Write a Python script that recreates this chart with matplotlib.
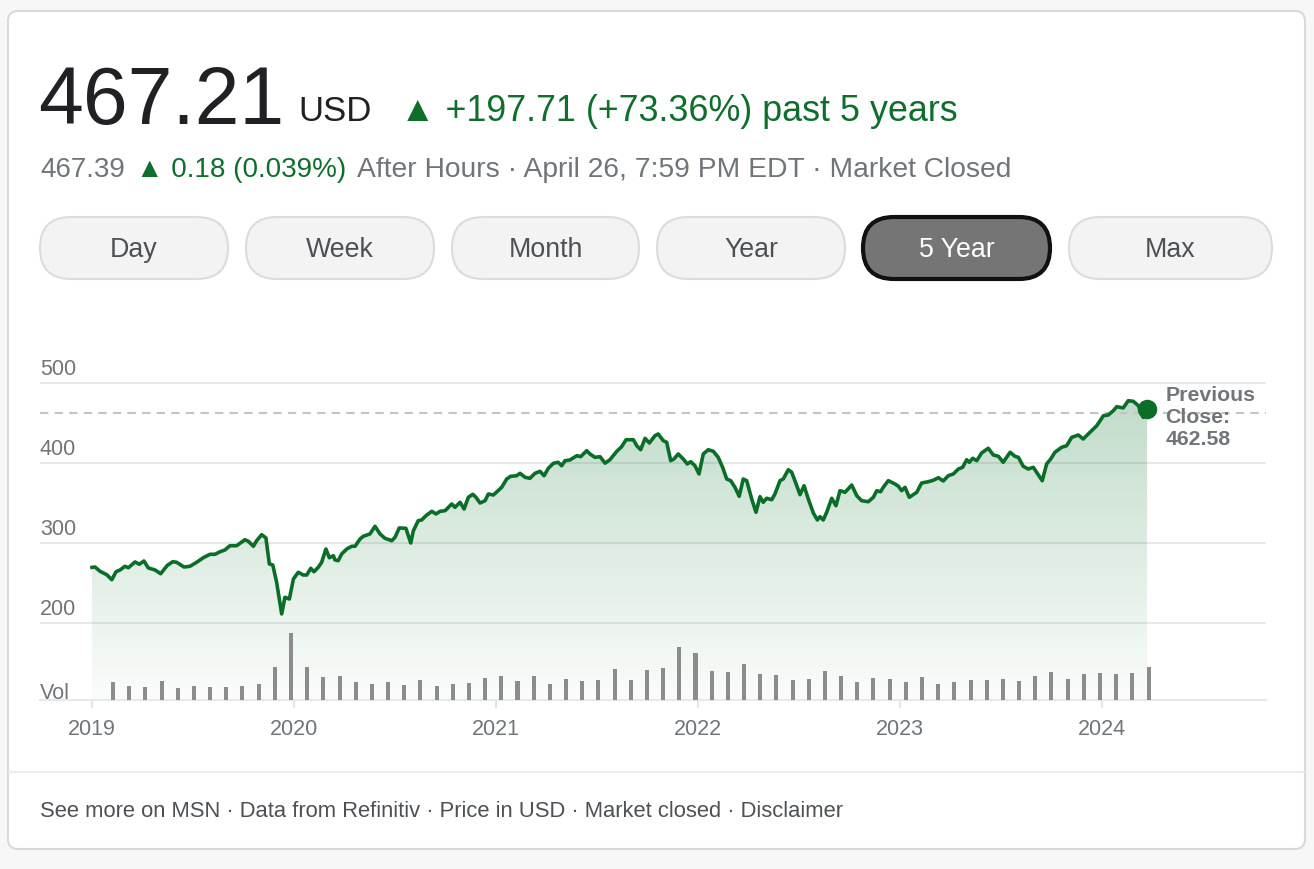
import numpy as np
import matplotlib
matplotlib.use("Agg")
import matplotlib.pyplot as plt
import matplotlib.patches as mpatches

# ── Data ───────────────────────────────────────────────────────────────────────
# years since start of the 5-year window (axis label 2019 sits at 0)
t_years = [
    0.000, 0.015, 0.040, 0.073, 0.098, 0.119, 0.139, 0.163, 0.180, 0.213,
    0.234, 0.257, 0.279, 0.312, 0.340, 0.373, 0.400, 0.419, 0.455, 0.485,
    0.518, 0.551, 0.584, 0.609, 0.634, 0.658, 0.683, 0.716, 0.757, 0.774,
    0.799, 0.815, 0.840, 0.861, 0.878, 0.895, 0.914, 0.939, 0.955, 0.977,
    0.997, 1.021, 1.046, 1.063, 1.083, 1.099, 1.120, 1.137, 1.158, 1.175,
    1.195, 1.203, 1.219, 1.236, 1.261, 1.286, 1.302, 1.327, 1.343, 1.376,
    1.401, 1.426, 1.450, 1.484, 1.500, 1.521, 1.554, 1.578, 1.591, 1.615,
    1.632, 1.653, 1.682, 1.703, 1.723, 1.748, 1.781, 1.797, 1.822, 1.842,
    1.863, 1.885, 1.901, 1.921, 1.946, 1.962, 1.987, 2.028, 2.053, 2.073,
    2.102, 2.119, 2.144, 2.168, 2.193, 2.218, 2.238, 2.259, 2.284, 2.308,
    2.325, 2.342, 2.366, 2.400, 2.419, 2.449, 2.465, 2.490, 2.515, 2.540,
    2.564, 2.598, 2.622, 2.644, 2.680, 2.697, 2.716, 2.738, 2.759, 2.787,
    2.803, 2.828, 2.845, 2.865, 2.881, 2.902, 2.927, 2.947, 2.964, 2.985,
    3.005, 3.026, 3.051, 3.076, 3.100, 3.122, 3.142, 3.162, 3.183, 3.204,
    3.224, 3.241, 3.266, 3.287, 3.307, 3.323, 3.340, 3.365, 3.381, 3.406,
    3.422, 3.447, 3.464, 3.489, 3.505, 3.525, 3.546, 3.571, 3.591, 3.604,
    3.620, 3.637, 3.662, 3.683, 3.703, 3.728, 3.761, 3.786, 3.810, 3.843,
    3.868, 3.885, 3.904, 3.917, 3.942, 3.975, 3.992, 4.008, 4.025, 4.046,
    4.083, 4.107, 4.140, 4.165, 4.190, 4.214, 4.239, 4.264, 4.289, 4.310,
    4.330, 4.343, 4.360, 4.380, 4.404, 4.437, 4.462, 4.487, 4.511, 4.545,
    4.569, 4.586, 4.610, 4.635, 4.660, 4.685, 4.704, 4.726, 4.746, 4.767,
    4.800, 4.825, 4.850, 4.883, 4.907, 4.932, 4.974, 5.007, 5.031, 5.056,
    5.073, 5.105, 5.130, 5.155, 5.180, 5.204, 5.223,
]
price = [
    269.5, 270.0, 264.6, 260.4, 254.1, 264.1, 266.3, 270.9, 269.1, 276.3,
    273.4, 277.5, 268.8, 266.3, 261.6, 272.1, 276.6, 275.9, 270.0, 270.9,
    275.9, 281.6, 285.9, 285.9, 289.1, 291.3, 296.6, 296.6, 304.1, 302.1,
    295.9, 302.9, 310.4, 306.3, 273.8, 272.5, 250.9, 211.3, 232.1, 230.0,
    255.0, 263.4, 260.0, 260.0, 268.4, 264.1, 269.6, 275.9, 292.5, 281.6,
    284.1, 278.8, 277.9, 286.3, 292.5, 295.9, 295.9, 305.0, 308.4, 311.3,
    320.9, 311.3, 305.9, 302.9, 307.1, 318.8, 318.4, 300.0, 315.4, 327.9,
    328.8, 334.1, 339.6, 336.3, 339.6, 340.4, 348.8, 344.6, 350.9, 342.5,
    357.1, 360.9, 357.1, 350.0, 352.9, 361.3, 360.0, 369.6, 380.0, 383.4,
    384.1, 387.1, 382.1, 380.9, 387.1, 389.6, 384.1, 393.4, 399.6, 400.9,
    396.6, 402.9, 403.8, 409.1, 407.9, 415.4, 411.3, 407.1, 407.9, 399.8,
    404.1, 414.6, 420.4, 429.1, 429.1, 421.6, 416.6, 430.9, 425.0, 434.1,
    436.3, 427.9, 425.9, 402.9, 405.0, 411.3, 405.0, 398.8, 401.6, 396.6,
    386.3, 411.3, 416.6, 414.6, 407.1, 394.6, 380.0, 377.9, 369.6, 358.4,
    380.0, 377.9, 355.0, 338.4, 357.9, 350.9, 355.9, 354.1, 361.3, 377.9,
    380.0, 391.6, 388.4, 371.6, 360.4, 371.6, 355.0, 337.5, 328.8, 332.9,
    328.8, 338.4, 355.9, 346.6, 365.4, 363.4, 372.5, 359.1, 352.9, 351.6,
    357.1, 365.4, 364.1, 369.6, 377.9, 373.8, 370.9, 365.4, 369.6, 357.1,
    363.4, 375.0, 376.6, 378.4, 381.6, 377.5, 384.1, 386.3, 392.5, 394.6,
    404.1, 400.9, 405.9, 402.9, 412.5, 418.4, 410.0, 408.4, 400.9, 413.4,
    408.4, 407.1, 395.9, 392.5, 394.6, 385.0, 377.9, 398.8, 405.0, 413.4,
    419.6, 421.6, 432.1, 435.0, 430.0, 436.3, 446.6, 459.1, 460.0, 465.4,
    470.4, 468.8, 477.9, 477.1, 471.6, 457.1, 467.21,
]
# monthly volume (relative units)
volume = [
    18.3, 13.7, 12.7, 19.0, 12.0, 13.7, 12.7, 12.7, 14.0, 16.0,
    33.3, 67.0, 33.3, 23.3, 23.7, 18.3, 15.7, 18.3, 14.7, 20.0,
    14.0, 16.3, 16.7, 22.0, 24.0, 19.3, 24.3, 16.0, 21.3, 19.0,
    19.7, 31.0, 19.7, 30.3, 31.7, 53.3, 47.0, 29.0, 28.0, 36.0,
    26.3, 25.0, 19.7, 21.0, 29.3, 24.3, 18.0, 22.0, 21.0, 18.0,
    23.3, 16.0, 18.3, 20.0, 19.7, 21.3, 19.0, 24.0, 28.0, 21.0,
    26.0, 27.3, 25.7, 27.3, 33.0,
]
vol_t = 0.104 + 0.0801 * np.arange(len(volume))

prev_close = 462.58
year_ticks = [0, 1, 2, 3, 4, 5]
year_labels = ["2019", "2020", "2021", "2022", "2023", "2024"]
price_ticks = [200, 300, 400, 500]
buttons = ["Day", "Week", "Month", "Year", "5 Year", "Max"]

# ── Style ──────────────────────────────────────────────────────────────────────
W, H = 1314, 870
GREEN = "#0f6e2c"
LINE_GREEN = "#0a6e28"
GRAY = "#70757a"
DARK = "#202124"
FONT = ["Liberation Sans", "DejaVu Sans"]
plt.rcParams["font.family"] = FONT

fig = plt.figure(figsize=(W / 100, H / 100), dpi=100, facecolor="#f7f7f7")

# background axes in pixel coordinates
bg = fig.add_axes([0, 0, 1, 1])
bg.set_xlim(0, W)
bg.set_ylim(H, 0)
bg.axis("off")

card = mpatches.FancyBboxPatch((8, 12), 1297, 838,
                               boxstyle="round,pad=0,rounding_size=10",
                               facecolor="white", edgecolor="#d9d9d9", linewidth=1.5)
bg.add_patch(card)
bg.plot([9, 1304], [773, 773], color="#ececec", lw=1.5)

# header
bg.text(38, 124, "467.21", fontsize=58, color=DARK, va="baseline", ha="left")
bg.text(298, 121, "USD", fontsize=25, color=DARK, va="baseline", ha="left")
bg.text(400, 121, "▲ +197.71 (+73.36%) past 5 years", fontsize=25.8, color=GREEN,
        va="baseline", ha="left")
bg.text(40, 177, "467.39", fontsize=20, color=GRAY, va="baseline", ha="left")
bg.text(136, 177, "▲ 0.18 (0.039%)", fontsize=20, color=GREEN, va="baseline", ha="left")
bg.text(357, 177, "After Hours · April 26, 7:59 PM EDT · Market Closed", fontsize=20.3,
        color=GRAY, va="baseline", ha="left")

# range buttons
btn_x = [40, 246, 452, 657, 863, 1069]
btn_w = [188, 188, 187, 188, 187, 203]
for label, bx, bw in zip(buttons, btn_x, btn_w):
    active = label == "5 Year"
    pill = mpatches.FancyBboxPatch((bx, 218), bw, 62,
                                   boxstyle="round,pad=0,rounding_size=31",
                                   facecolor="#757575" if active else "#f3f3f3",
                                   edgecolor="#111111" if active else "#dcdcdc",
                                   linewidth=3 if active else 1.5)
    bg.add_patch(pill)
    bg.text(bx + bw / 2, 250, label, fontsize=19.3, ha="center", va="center",
            color="white" if active else "#4d5156")

# footer
bg.text(40, 812, "See more on MSN · Data from Refinitiv · Price in USD · Market closed · Disclaimer",
        fontsize=15.8, color="#4d5156", va="center", ha="left")

# ── Chart ─────────────────────────────────────────────────────────────────────
px_per_year = 202.0
x0 = (40 - 92) / px_per_year
x1 = (1266 - 92) / px_per_year
y_bottom = 500 - (701 - 384) * 1.25
y_top = 500 + (384 - 340) * 1.25

ax = fig.add_axes([40 / W, 1 - 701 / H, (1266 - 40) / W, (701 - 340) / H])
ax.set_facecolor("none")
ax.set_xlim(x0, x1)
ax.set_ylim(y_bottom, y_top)

for v in price_ticks:
    ax.axhline(v, color="#e8e8e8", lw=1.5, zorder=1)
    ax.text(0, v + 5, str(v), transform=ax.get_yaxis_transform(), fontsize=15.5,
            color=GRAY, ha="left", va="bottom")
ax.text(0, y_bottom - 4, "Vol", transform=ax.get_yaxis_transform(), fontsize=15.5,
        color=GRAY, ha="left", va="bottom")

# gradient fill under the line
poly = ax.fill_between(t_years, price, y_bottom, color="none", lw=0)
grad = np.linspace(0.02, 0.26, 256)
rgba = np.zeros((256, 1, 4))
rgba[..., 1] = 0.44
rgba[..., 2] = 0.16
rgba[:, 0, 3] = grad
img = ax.imshow(rgba, extent=[t_years[0], t_years[-1], y_bottom, 500],
                origin="lower", aspect="auto", zorder=2)
img.set_clip_path(poly.get_paths()[0], transform=ax.transData)

ax.axhline(prev_close, color="#c4c4c4", lw=1.5, ls=(0, (4, 3)), zorder=3)
ax.plot(t_years, price, color=LINE_GREEN, lw=2.6, zorder=5, solid_joinstyle="round")
ax.plot([t_years[-1]], [price[-1]], "o", color=LINE_GREEN, ms=13, zorder=6)
ax.text(t_years[-1] + 0.09, 498, "Previous\nClose:\n" + f"{prev_close:.2f}",
        fontsize=15.3, fontweight="bold", color=GRAY, ha="left", va="top",
        linespacing=1.22, zorder=6)
ax.set_xlim(x0, x1)
ax.set_ylim(y_bottom, y_top)

ax.set_xticks(year_ticks)
ax.set_xticklabels(year_labels)
ax.set_yticks([])
ax.tick_params(axis="x", direction="out", length=6, width=1.2, color="#e0e0e0",
               labelcolor=GRAY, labelsize=15.5, pad=7)
for side in ("top", "left", "right"):
    ax.spines[side].set_visible(False)
ax.spines["bottom"].set_color("#e8e8e8")
ax.spines["bottom"].set_linewidth(1.5)

# volume bars
axv = ax.twinx()
axv.set_ylim(0, 361)
axv.bar(vol_t, volume, width=0.02, color="#8c8c8c", zorder=4)
axv.set_yticks([])
for s in axv.spines.values():
    s.set_visible(False)
axv.set_xlim(x0, x1)

fig.savefig("out.png", dpi=100, facecolor=fig.get_facecolor())
